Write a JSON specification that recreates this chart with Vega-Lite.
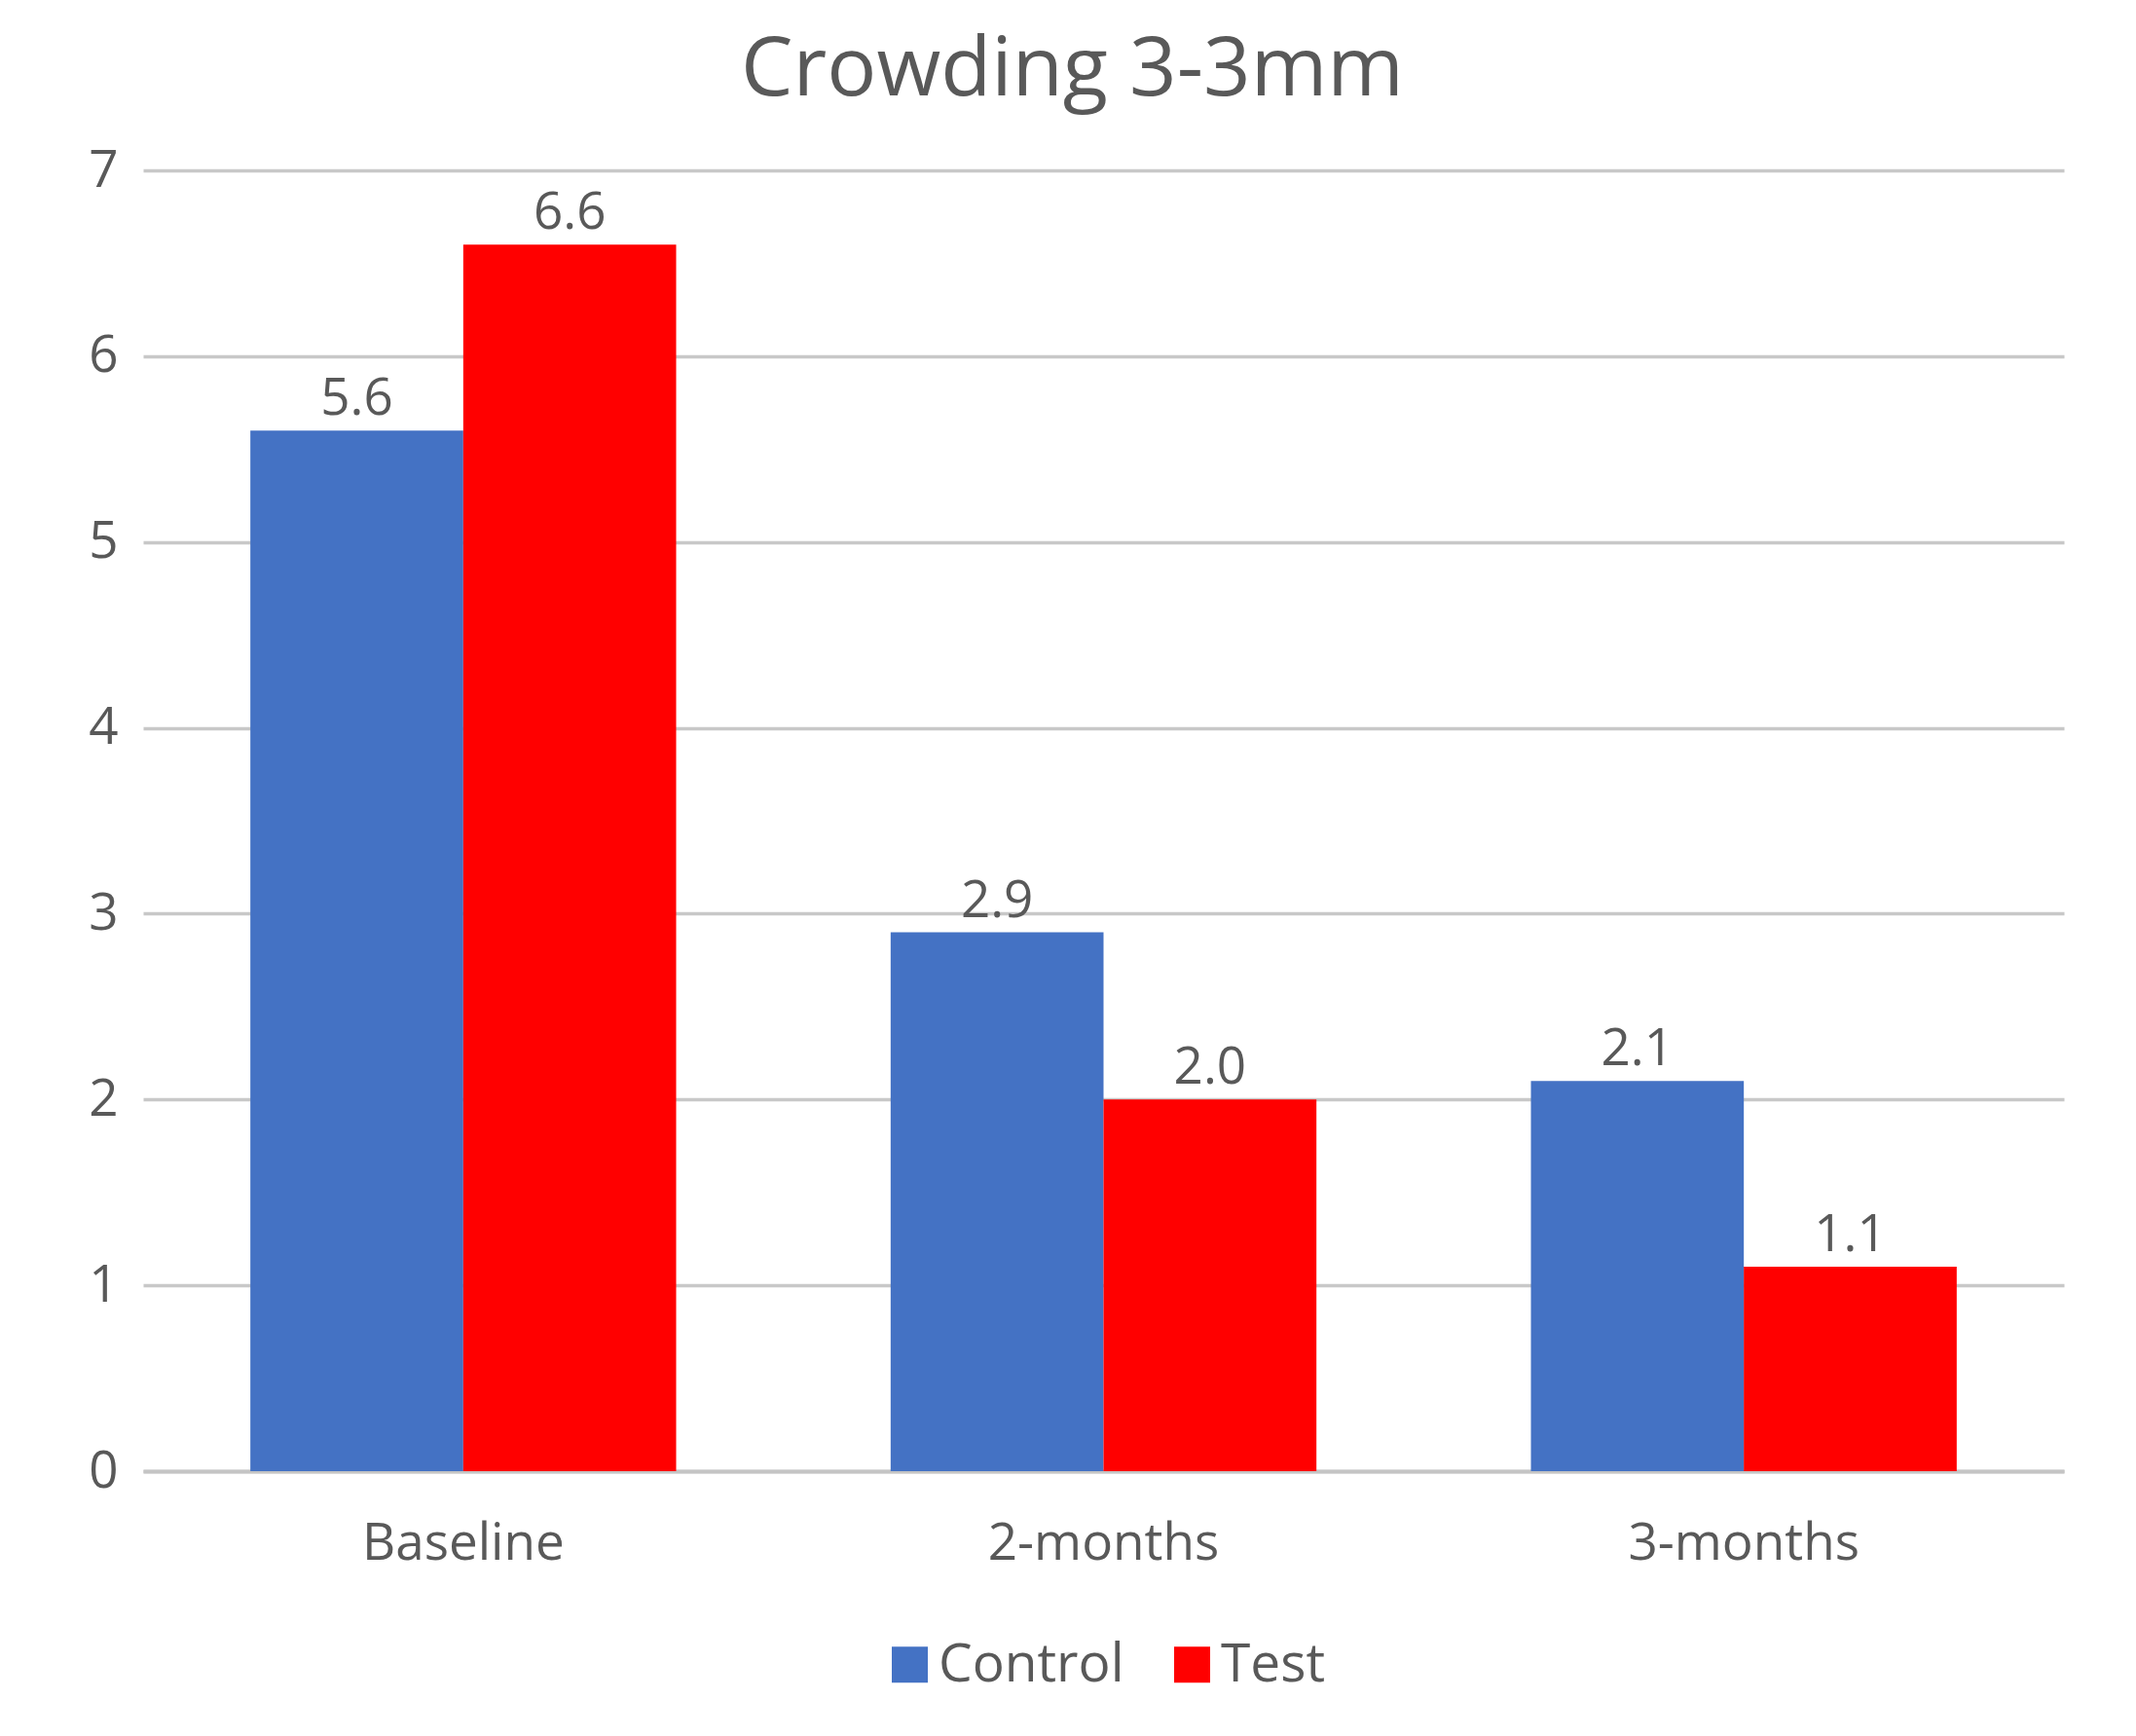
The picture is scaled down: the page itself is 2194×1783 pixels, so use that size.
{
  "$schema": "https://vega.github.io/schema/vega-lite/v6.json",
  "autosize": {"type": "none"},
  "width": 1973,
  "height": 1336,
  "padding": {"left": 147, "top": 175, "right": 74, "bottom": 272},
  "background": "white",
  "title": {
    "text": "Crowding 3-3mm",
    "fontSize": 85,
    "font": "Open Sans",
    "fontWeight": "normal",
    "color": "#595959",
    "anchor": "middle",
    "dx": -32,
    "offset": 33
  },
  "data": {
    "values": [
      {"time": "Baseline", "group": "Control", "value": 5.6},
      {"time": "Baseline", "group": "Test", "value": 6.6},
      {"time": "2-months", "group": "Control", "value": 2.9},
      {"time": "2-months", "group": "Test", "value": 2.0},
      {"time": "3-months", "group": "Control", "value": 2.1},
      {"time": "3-months", "group": "Test", "value": 1.1}
    ]
  },
  "encoding": {
    "x": {
      "field": "time",
      "type": "nominal",
      "sort": ["Baseline", "2-months", "3-months"],
      "scale": {"paddingInner": 0.335, "paddingOuter": 0.1675},
      "axis": {
        "title": null,
        "labelAngle": 0,
        "ticks": false,
        "domain": true,
        "domainColor": "#C4C4C4",
        "domainWidth": 4,
        "labelPadding": 48,
        "labelFontSize": 53,
        "labelFont": "Open Sans",
        "labelColor": "#595959",
        "labelBaseline": "top",
        "labelLimit": 0
      }
    },
    "xOffset": {"field": "group", "type": "nominal", "sort": ["Control", "Test"], "scale": {"paddingInner": 0, "paddingOuter": 0}},
    "y": {
      "field": "value",
      "type": "quantitative",
      "scale": {"domain": [0, 7]},
      "axis": {
        "title": null,
        "values": [0, 1, 2, 3, 4, 5, 6, 7],
        "domain": false,
        "ticks": false,
        "grid": true,
        "gridColor": "#C8C8C8",
        "gridWidth": 3.5,
        "labelPadding": 26,
        "labelFontSize": 53,
        "labelFont": "Open Sans",
        "labelColor": "#595959"
      }
    }
  },
  "layer": [
    {
      "mark": {"type": "bar"},
      "encoding": {
        "color": {
          "field": "group",
          "type": "nominal",
          "sort": ["Control", "Test"],
          "scale": {"domain": ["Control", "Test"], "range": ["#4472C4", "#FF0000"]},
          "legend": {
            "title": null,
            "orient": "bottom",
            "direction": "horizontal",
            "symbolType": "square",
            "symbolSize": 1369,
            "symbolStrokeWidth": 0,
            "labelFontSize": 55,
            "labelFont": "Open Sans",
            "labelColor": "#595959",
            "labelOffset": 2,
            "labelLimit": 0,
            "columnPadding": 42,
            "offset": 70
          }
        }
      }
    },
    {
      "mark": {"type": "text", "dy": -16, "baseline": "alphabetic", "fontSize": 53, "font": "Open Sans", "color": "#595959"},
      "encoding": {
        "text": {"field": "value", "type": "quantitative", "format": ".1f"}
      }
    }
  ],
  "config": {
    "view": {"stroke": null},
    "legend": {"layout": {"bottom": {"anchor": "middle"}}}
  }
}
